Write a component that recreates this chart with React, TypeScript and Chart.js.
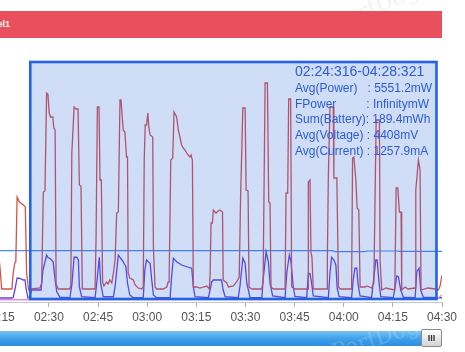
import React, { useEffect, useRef } from 'react';
import { Chart, registerables } from 'chart.js';

Chart.register(...registerables);

// time axis in seconds (labels mm:ss)
const tickSeconds = [135, 150, 165, 180, 195, 210, 225, 240, 255, 270];

// Power (mW)
const powerTimes = [
  125.0, 131.4, 132.0, 133.8, 135.6, 138.7, 139.1, 139.6, 139.9, 140.3, 141.0, 141.4, 142.2, 142.8, 143.2, 143.8,
  144.7, 147.3, 147.8, 148.3, 148.8, 149.3, 149.7, 150.1, 150.5, 151.2, 151.5, 151.9, 152.2, 152.9,
  156.4, 156.7, 157.0, 157.7, 158.3, 158.9, 159.3, 159.8, 160.2,
  164.1, 164.4, 164.8, 165.3, 165.6, 166.0, 166.4, 166.8, 167.6, 168.1, 168.6, 169.2, 169.7, 170.2, 170.7, 171.2,
  171.7, 172.0, 172.7, 173.2, 173.7, 174.0, 174.2, 174.7, 175.8, 176.3, 177.3, 178.3, 178.8,
  179.1, 179.4, 179.8, 180.2, 180.5, 180.9, 181.7, 181.9, 182.4, 182.9, 184.9, 186.0, 186.4, 186.7,
  187.2, 187.8, 188.2, 188.7, 189.0, 189.5, 190.0, 190.5, 191.0, 191.5, 192.1, 192.5, 193.1, 193.4, 193.8, 194.1,
  195.1, 196.1, 197.1, 198.2, 199.0, 199.2, 199.5, 199.9, 200.2, 201.0, 201.7, 202.2, 203.0, 203.2,
  204.3, 204.8, 206.3, 207.3, 208.1, 208.5, 209.2, 209.9, 210.2, 210.8, 211.1, 211.9,
  215.0, 215.4, 216.0, 216.7, 217.1, 217.5, 217.8, 218.5,
  222.1, 222.4, 222.9, 223.2, 223.8, 224.1, 225.1,
  229.1, 229.2, 229.7, 230.0, 230.3, 230.7,
  234.9, 235.0, 235.3, 235.8, 236.8, 237.0, 237.9, 238.4, 238.9,
  242.4, 242.7, 243.1, 243.7, 244.1, 244.6, 245.0, 246.5, 247.1, 248.5,
  249.2, 249.9, 250.9, 251.1, 251.6, 252.9, 254.1, 255.6,
  256.0, 256.5, 257.0, 257.5, 257.7, 258.7, 259.6, 261.8,
  262.0, 262.8, 263.3, 263.6, 265.7, 267.9, 268.9, 269.4, 269.9, 270.0,
];
const powerValues = [
  700, 750, 4400, 4250, 700, 700, 1500, 2000, 2050, 5300, 5050, 5000, 4900, 4800, 1500, 650,
  700, 750, 1000, 5550, 5600, 10500, 10450, 9500, 9300, 9300, 8750, 8650, 950, 700,
  700, 900, 7500, 9800, 9700, 9700, 5900, 5850, 700,
  700, 3300, 9800, 9800, 6150, 6150, 1050, 850, 1050, 950, 1150, 1000, 1500, 2150, 4500, 4550,
  10150, 10150, 8650, 8550, 7300, 7300, 1500, 1250, 1150, 900, 750, 700, 800,
  7150, 8900, 8900, 9500, 8800, 8400, 8300, 2800, 800, 700, 700, 800, 1050, 1050,
  7150, 7250, 9550, 9400, 9300, 8650, 8300, 7900, 7750, 7650, 7500, 7400, 7300, 7400, 7150, 800,
  800, 750, 800, 850, 700, 1400, 4000, 4000, 4650, 4500, 4600, 4650, 4550, 1150,
  1000, 800, 850, 1050, 1300, 5150, 9750, 9750, 5650, 5600, 800, 700,
  700, 1150, 11000, 11000, 5050, 5000, 800, 700,
  700, 5500, 5500, 10200, 10200, 800, 700,
  700, 6050, 6150, 2500, 2300, 700,
  700, 2150, 6250, 9800, 9800, 6250, 6250, 800, 700,
  700, 7250, 7300, 6150, 4750, 4650, 800, 800, 850, 750,
  1000, 9150, 9150, 2150, 650, 750, 700, 650,
  5750, 5750, 4550, 4550, 650, 800, 700, 750,
  5650, 7150, 6650, 650, 750, 700, 650, 850, 1300, 1400,
];

// Current (mA)
const currentTimes = [
  125.0, 138.7, 139.1, 139.6, 140.3, 141.2, 142.2, 142.7, 143.0, 143.6, 144.1,
  144.7, 147.6, 148.2, 149.3, 149.8, 150.3, 150.8, 151.3, 151.9, 152.4, 153.4,
  156.4, 157.0, 157.7, 158.5, 159.0, 159.3, 160.0,
  164.1, 164.6, 165.4, 165.8, 166.6, 169.7, 170.2, 171.2, 171.9, 172.7, 173.5, 174.0, 174.7, 175.8,
  178.8, 179.3, 179.8, 180.3, 180.9, 181.4, 181.9, 182.9,
  187.0, 187.5, 188.0, 189.0, 190.5, 192.1, 193.6, 194.1, 194.6,
  198.7, 199.2, 199.7, 200.2, 202.7, 203.2, 203.8,
  207.8, 208.3, 209.2, 209.9, 210.4, 210.9, 211.4,
  215.0, 215.4, 216.3, 217.0, 217.5, 218.3,
  222.1, 222.6, 223.4, 223.9, 224.6, 225.1,
  228.7, 229.2, 229.7, 230.2, 230.7,
  235.3, 235.8, 236.3, 237.0, 237.6, 238.0, 238.6,
  242.4, 242.9, 243.4, 244.0, 244.4, 245.0,
  248.5, 249.0, 249.8, 250.2, 250.8, 251.3,
  255.1, 255.7, 256.2, 256.7, 257.4, 258.2,
  261.8, 262.3, 263.0, 263.5, 264.3, 268.4, 270.0,
];
const currentValues = [
  200, 200, 220, 520, 1000, 980, 920, 920, 600, 200, 240,
  520, 520, 1320, 1920, 1800, 1790, 1720, 1650, 920, 450, 230,
  210, 720, 1830, 1830, 1720, 650, 250,
  210, 790, 1830, 790, 250, 250, 650, 1920, 1790, 1650, 1450, 790, 320, 210,
  210, 1320, 1720, 1650, 1590, 920, 320, 210,
  210, 1120, 1790, 1650, 1520, 1450, 1390, 650, 250,
  210, 520, 850, 920, 920, 520, 250,
  210, 650, 1790, 1590, 790, 520, 210,
  210, 920, 2050, 1650, 790, 280,
  210, 1190, 1920, 1650, 650, 260,
  210, 1190, 1180, 790, 280,
  210, 1190, 1830, 1720, 1520, 590, 250,
  210, 920, 1390, 1390, 720, 280,
  210, 790, 1720, 1720, 790, 250,
  210, 650, 1080, 1050, 520, 230,
  210, 1250, 1390, 520, 230, 210, 210,
];

// Voltage (mV)
const voltageTimes = [125.0, 236.7, 237.3, 246.5, 247.1, 256.3, 256.9, 270.0];
const voltageValues = [4413, 4413, 4403, 4403, 4410, 4410, 4407, 4407];

// FPower trace near zero
const fpowerTimes = [125.0, 268.4, 270.0];
const fpowerValues = [130, 150, 320];

const selectionStart = 144.316;
const selectionEnd = 268.321;
const summaryTitle = '02:24:316-04:28:321';
const summaryLines = [
  'Avg(Power)   : 5551.2mW',
  'FPower         : InfinitymW',
  'Sum(Battery): 189.4mWh',
  'Avg(Voltage) : 4408mV',
  'Avg(Current) : 1257.9mA',
];
const headerLabel = 'Label1';

const FONT = '"Liberation Sans", Arial, Helvetica, sans-serif';

const pts = (ts: number[], vs: number[]) => ts.map((t, i) => ({ x: t, y: vs[i] }));
const fmt = (v: number) => {
  const m = Math.floor(v / 60);
  const s = Math.round(v % 60);
  return `${String(m).padStart(2, '0')}:${String(s).padStart(2, '0')}`;
};

const selectionPlugin = {
  id: 'selectionBox',
  afterDatasetsDraw(chart: any) {
    const { ctx, chartArea, scales } = chart;
    const x1 = scales.x.getPixelForValue(selectionStart);
    const x2 = scales.x.getPixelForValue(selectionEnd);
    const top = chartArea.top + 18;
    const bottom = chartArea.bottom - 3;
    ctx.save();
    ctx.fillStyle = 'rgba(40,100,220,0.22)';
    ctx.fillRect(x1, top, x2 - x1, bottom - top);
    ctx.strokeStyle = '#2462e6';
    ctx.lineWidth = 2.6;
    ctx.strokeRect(x1, top, x2 - x1, bottom - top);
    ctx.fillStyle = '#2b5cd8';
    ctx.textBaseline = 'alphabetic';
    ctx.textAlign = 'left';
    const tx = x2 - 141.5;
    ctx.font = `14px ${FONT}`;
    ctx.fillText(summaryTitle, tx, top + 13.5);
    ctx.font = `12px ${FONT}`;
    summaryLines.forEach((l, i) => ctx.fillText(l, tx, top + 29.9 + i * 15.7));
    ctx.restore();
  },
};

export default function App() {
  const ref = useRef<HTMLCanvasElement | null>(null);
  useEffect(() => {
    if (!ref.current) return;
    const chart = new Chart(ref.current, {
      type: 'line',
      data: {
        datasets: [
          { label: 'FPower', data: pts(fpowerTimes, fpowerValues), yAxisID: 'yCur', borderColor: '#e68ad6', borderWidth: 1.3 },
          { label: 'Power', data: pts(powerTimes, powerValues), yAxisID: 'y', borderColor: '#d65050', borderWidth: 1.3 },
          { label: 'Current', data: pts(currentTimes, currentValues), yAxisID: 'yCur', borderColor: '#5f42e8', borderWidth: 1.3 },
          { label: 'Voltage', data: pts(voltageTimes, voltageValues), yAxisID: 'yVolt', borderColor: '#438ff3', borderWidth: 1.2 },
        ],
      },
      options: {
        responsive: false,
        animation: false,
        layout: { padding: { left: 12, right: 23, top: 44, bottom: 0 } },
        plugins: { legend: { display: false }, tooltip: { enabled: false } },
        elements: { point: { radius: 0 }, line: { tension: 0 } },
        scales: {
          x: {
            type: 'linear',
            min: 125,
            max: 270,
            afterBuildTicks: (s: any) => {
              s.ticks = tickSeconds.map((v) => ({ value: v }));
            },
            afterFit: (s: any) => {
              s.height = 28;
            },
            grid: { display: true, drawOnChartArea: false, drawTicks: true, tickLength: 5, color: '#a9b0b8' },
            border: { display: true, color: '#c3c8cd' },
            ticks: {
              autoSkip: false,
              maxRotation: 0,
              padding: 3,
              color: '#555',
              font: { family: FONT, size: 12 },
              callback: (v: any) => fmt(Number(v)),
            },
          },
          y: { display: false, min: 50, max: 12950 },
          yCur: { display: false, min: 40, max: 10360 },
          yVolt: { display: false, min: 3900, max: 6480 },
        },
      },
      plugins: [selectionPlugin],
    } as any);
    return () => chart.destroy();
  }, []);

  return (
    <div style={{ position: 'fixed', left: 0, top: 0, width: 465, height: 352, overflow: 'hidden', background: '#fff', fontFamily: FONT }}>
      <div
        style={{
          position: 'absolute', left: 330, top: -6, transform: 'rotate(-22deg)', fontFamily: '"DejaVu Serif", serif',
          fontSize: 22, color: 'rgba(0,0,0,0.07)', whiteSpace: 'nowrap',
        }}
      >
        PerfDog
      </div>
      <div style={{ position: 'absolute', left: 0, top: 11, width: 442, height: 27, background: '#e94f5d', overflow: 'hidden' }}>
        <div
          style={{
            position: 'absolute', left: -100, width: 110, top: 0, height: 27, lineHeight: '27px', textAlign: 'right',
            color: '#fff', fontWeight: 'bold', fontSize: 9,
          }}
        >
          {headerLabel}
        </div>
      </div>
      <canvas ref={ref} width={510} height={330} style={{ position: 'absolute', left: -45, top: 0, width: 510, height: 330 }} />
      <div
        style={{
          position: 'absolute', left: 0, top: 331, width: 424, height: 15,
          background: 'linear-gradient(#74c3f5, #3d9ee8 55%, #2c8fe0)',
        }}
      />
      <div
        style={{
          position: 'absolute', left: 330, top: 326, transform: 'rotate(-18deg)', fontFamily: '"DejaVu Serif", serif',
          fontSize: 22, color: 'rgba(255,255,255,0.18)', whiteSpace: 'nowrap',
        }}
      >
        PerfDog
      </div>
      <div
        style={{
          position: 'absolute', left: 421, top: 329, width: 19, height: 16, border: '1px solid #8a8a8a', borderRadius: 2,
          background: 'linear-gradient(#fdfdfd, #d4d4d4)', textAlign: 'center', lineHeight: '16px', fontSize: 9,
          fontWeight: 'bold', color: '#333', letterSpacing: 0,
        }}
      >
        III
      </div>
    </div>
  );
}
